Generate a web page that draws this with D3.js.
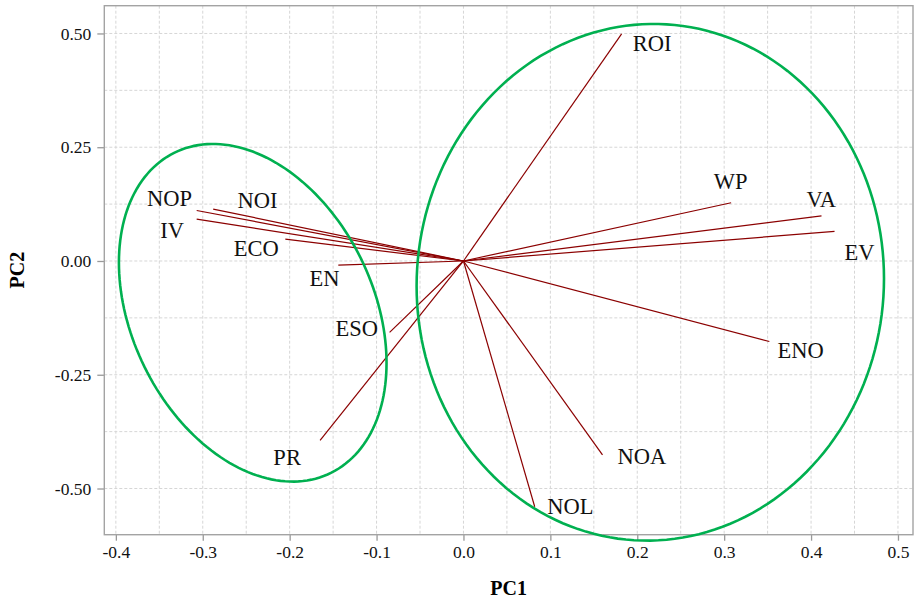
<!DOCTYPE html>
<html>
<head>
<meta charset="utf-8">
<script src="https://cdn.jsdelivr.net/npm/d3@7"></script>
<style>
  body { margin: 0; background: #fff; }
</style>
</head>
<body>
<div id="chart"></div>
<script>

// loadings (arrow tips)
var vars = ["ROI", "WP", "VA", "EV", "ENO", "NOA", "NOL", "PR", "ESO", "EN", "ECO", "NOP", "NOI", "IV"];
var pc1 = [0.182, 0.308, 0.412, 0.427, 0.352, 0.160, 0.082, -0.165, -0.085, -0.144, -0.205, -0.307, -0.288, -0.307];
var pc2 = [0.499, 0.128, 0.099, 0.065, -0.177, -0.426, -0.540, -0.394, -0.157, -0.009, 0.048, 0.111, 0.114, 0.092];

// where the labels sit (data units, repelled)
var labelX = [0.217, 0.3075, 0.4117, 0.4557, 0.388, 0.2054, 0.1229, -0.2029, -0.1229, -0.160, -0.2384, -0.3383, -0.237, -0.3352];
var labelY = [0.4787, 0.1754, 0.1358, 0.0193, -0.1967, -0.429, -0.5389, -0.4312, -0.148, -0.038, 0.0279, 0.1378, 0.133, 0.067];

// group ellipses: centre + covariance
var groupCx = [-0.2425, 0.215];
var groupCy = [-0.1138, -0.0468];
var groupVarX = [0.02371, 0.07232];
var groupVarY = [0.13763, 0.32228];
var groupCovXY = [-0.01699, 0.00222];

var xTicks = [-0.4, -0.3, -0.2, -0.1, 0.0, 0.1, 0.2, 0.3, 0.4, 0.5];
var xTickLabels = ["-0.4", "-0.3", "-0.2", "-0.1", "0.0", "0.1", "0.2", "0.3", "0.4", "0.5"];
var yTicks = [0.5, 0.25, 0, -0.25, -0.5];
var yTickLabels = ["0.50", "0.25", "0.00", "-0.25", "-0.50"];
var xMinor = [-0.35, -0.25, -0.15, -0.05, 0.05, 0.15, 0.25, 0.35, 0.45];
var yMinor = [0.375, 0.125, -0.125, -0.375];

var serif = "Liberation Serif";

var margin = {top: 5.7, right: 4, bottom: 66.3, left: 104.3},
    width = 917 - margin.left - margin.right,
    height = 601 - margin.top - margin.bottom;

var x = d3.scaleLinear().domain([-0.4133, 0.5173]).range([0, width]);
var y = d3.scaleLinear().domain([-0.6015, 0.561]).range([height, 0]);

var svg = d3.select("#chart").append("svg")
    .attr("width", 917)
    .attr("height", 601);

var g = svg.append("g")
    .attr("transform", "translate(" + margin.left + "," + margin.top + ")");

// grid
var grid = g.append("g").attr("class", "grid")
    .attr("stroke", "#d6d6d6")
    .attr("stroke-width", 1)
    .attr("stroke-dasharray", "3,2");

grid.selectAll(".vx")
    .data(xTicks.concat(xMinor))
    .enter().append("line")
    .attr("x1", function(d){ return x(d); })
    .attr("x2", function(d){ return x(d); })
    .attr("y1", 0)
    .attr("y2", height);

grid.selectAll(".hy")
    .data(yTicks.concat(yMinor))
    .enter().append("line")
    .attr("y1", function(d){ return y(d); })
    .attr("y2", function(d){ return y(d); })
    .attr("x1", 0)
    .attr("x2", width);

// axes
var xAxis = g.append("g")
    .attr("transform", "translate(0," + height + ")")
    .call(d3.axisBottom(x).tickValues(xTicks).tickSize(6).tickPadding(5)
        .tickFormat(function(d, i){ return xTickLabels[i]; }));

var yAxis = g.append("g")
    .call(d3.axisLeft(y).tickValues(yTicks).tickSize(7).tickPadding(6)
        .tickFormat(function(d, i){ return yTickLabels[i]; }));

[xAxis, yAxis].forEach(function(a){
    a.attr("font-family", serif).attr("font-size", 17.5);
    a.select(".domain").remove();
    a.selectAll(".tick line").attr("stroke", "#999").attr("stroke-width", 1.3);
    a.selectAll(".tick text").attr("fill", "#111");
});

// panel border
g.append("rect")
    .attr("width", width)
    .attr("height", height)
    .attr("fill", "none")
    .attr("stroke", "#a3a3a3")
    .attr("stroke-width", 1.4);

// arrows
var idx = d3.range(vars.length);

g.append("g").selectAll("line")
    .data(idx)
    .enter().append("line")
    .attr("x1", x(0))
    .attr("y1", y(0))
    .attr("x2", function(i){ return x(pc1[i]); })
    .attr("y2", function(i){ return y(pc2[i]); })
    .attr("stroke", "#8b0000")
    .attr("stroke-width", 1.2);

// ellipses
var ellipseLine = d3.line()
    .x(function(p){ return x(p[0]); })
    .y(function(p){ return y(p[1]); })
    .curve(d3.curveLinearClosed);

function ellipsePoints(k) {
    var l11 = Math.sqrt(groupVarX[k]),
        l21 = groupCovXY[k] / l11,
        l22 = Math.sqrt(groupVarY[k] - l21 * l21);
    return d3.range(0, 2 * Math.PI, Math.PI / 90).map(function(t){
        var c = Math.cos(t), s = Math.sin(t);
        return [groupCx[k] + l11 * c, groupCy[k] + l21 * c + l22 * s];
    });
}

g.append("g").selectAll("path")
    .data(d3.range(groupCx.length))
    .enter().append("path")
    .attr("d", function(k){ return ellipseLine(ellipsePoints(k)); })
    .attr("fill", "none")
    .attr("stroke", "#00b050")
    .attr("stroke-width", 2.6);

// labels
g.append("g")
    .attr("font-family", serif)
    .attr("font-size", 22.5)
    .selectAll("text")
    .data(idx)
    .enter().append("text")
    .attr("x", function(i){ return x(labelX[i]); })
    .attr("y", function(i){ return y(labelY[i]); })
    .attr("dy", "0.33em")
    .attr("text-anchor", "middle")
    .attr("fill", "#111")
    .text(function(i){ return vars[i]; });

// axis titles
svg.append("text")
    .attr("x", margin.left + width / 2)
    .attr("y", 594.5)
    .attr("text-anchor", "middle")
    .attr("font-family", serif)
    .attr("font-size", 20)
    .attr("font-weight", "bold")
    .text("PC1");

svg.append("text")
    .attr("transform", "translate(24," + (margin.top + height / 2) + ") rotate(-90)")
    .attr("text-anchor", "middle")
    .attr("font-family", serif)
    .attr("font-size", 20)
    .attr("font-weight", "bold")
    .text("PC2");

</script>
</body>
</html>
